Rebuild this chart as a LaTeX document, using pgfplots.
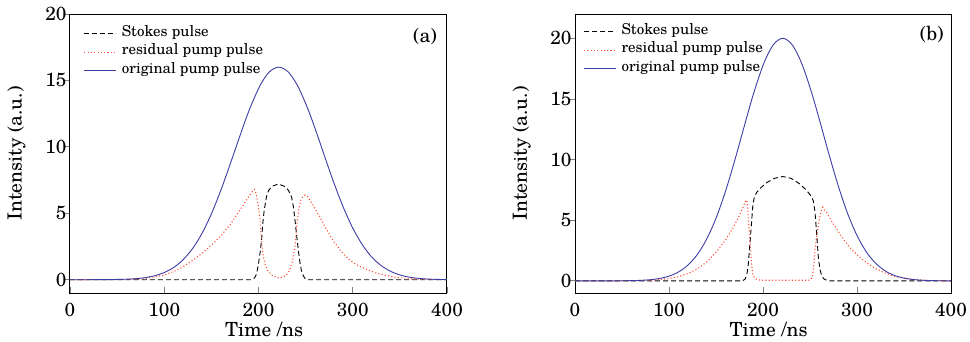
\documentclass[border=0pt]{standalone}
\usepackage{fontspec}
\setmainfont{TeX Gyre Schola}
\usepackage{pgfplots}
\pgfplotsset{compat=1.18}
\definecolor{pblue}{RGB}{60,60,165}
\definecolor{pred}{RGB}{255,80,60}
\pgfplotsset{
 myax/.style={
  anchor=south west, scale only axis, height=279pt,
  xmin=0, xmax=400, ymin=-1,
  xtick={0,100,200,300,400},
  tick align=inside, tick pos=left,
  major tick length=6pt,
  ytick style={xshift=-6pt, line width=0.8pt},
  xtick style={line width=0.8pt},
  axis line style={line width=1pt},
  /pgf/number format/assume math mode=true,
  ticklabel style={font=\fontsize{19}{23}\selectfont},
  xticklabel style={anchor=base, yshift=-23pt},
  label style={font=\fontsize{19.5}{23}\selectfont},
  xlabel={Time /ns}, ylabel={Intensity (a.u.)},
  xlabel style={at={(axis description cs:0.515,-0.1566)}, anchor=base},
  ylabel style={at={(axis description cs:-0.142,0.5)}, anchor=center},
  legend style={draw=none, fill=none, font=\fontsize{15}{18.7}\selectfont,
    anchor=north west, row sep=0pt, column sep=5pt, inner sep=0pt,
    nodes={inner sep=0pt, text height=12pt, text depth=6.6pt}},
  legend cell align=left,
  legend image code/.code={\draw[##1] (0pt,0pt) -- (32pt,0pt);},
 },
 stokes/.style={black, line width=0.9pt, dash pattern=on 5pt off 3pt},
 resid/.style={pred, line width=1.1pt, dash pattern=on 1.1pt off 2.2pt},
 orig/.style={pblue, line width=0.9pt},
}
\begin{document}
\begin{tikzpicture}[x=1pt,y=1pt]
\path[use as bounding box] (0,0) rectangle (970,341);
% ---------------- (a)
\begin{axis}[myax, at={(70pt,48pt)}, width=377pt, ymax=20, ytick={0,5,10,15,20},
  legend style={at={(axis description cs:0.036,0.964)}}]
\addplot[stokes] coordinates {(0,0)(192,0)(194,0.05)(196,0.15)(198,0.45)(200,1.2)(202,2.2)(203.5,3.2)(204.5,4.2)(206,5.2)(208.5,6.25)(211,6.75)(215,7.05)(221,7.2)(227,7.05)(231,6.8)(233.5,6.5)(235.2,6.2)(237,5.5)(238.7,4.5)(240.5,3.3)(242.3,2.2)(244,1.3)(245.5,0.7)(247.5,0.3)(249.5,0.08)(252,0)(400,0)};
\addlegendentry{Stokes pulse}
\addplot[resid] coordinates {(0,0)(40,0.003)(60,0.02)(80,0.1)(100,0.35)(110,0.62)(120,0.98)(130,1.45)(140,1.98)(150,2.6)(160,3.3)(170,4.15)(180,5.2)(188,6.1)(193,6.6)(195.5,6.8)(197.5,6.5)(199.5,5.7)(201.5,4.6)(203.4,2.8)(205,1.8)(207,1.15)(210,0.65)(215,0.3)(222,0.12)(229,0.3)(233,0.7)(236,1.4)(238.5,2.3)(240.5,4.0)(242.5,5.2)(245,6.0)(247.5,6.3)(249.5,6.37)(252,6.25)(258,5.6)(265,4.73)(272,3.8)(279,2.97)(288,2.1)(297,1.46)(306,1.05)(315,0.78)(324,0.52)(332,0.38)(341,0.24)(350,0.15)(365,0.06)(380,0.02)(400,0)};
\addlegendentry{residual pump pulse}
\addplot[orig, smooth] coordinates {(0,0)(20,0.001)(40,0.008)(60,0.04)(70,0.08)(80,0.161)(90,0.302)(100,0.54)(110,0.92)(120,1.50)(130,2.34)(140,3.48)(150,4.95)(160,6.72)(170,8.71)(180,10.77)(190,12.74)(201.5,14.60)(211.5,15.64)(221.5,16)(231.5,15.64)(241.5,14.60)(251.5,13.01)(260,11.39)(270,9.32)(280,7.29)(290,5.45)(300,3.89)(310,2.65)(320,1.72)(330,1.07)(340,0.64)(350,0.36)(360,0.196)(370,0.101)(380,0.05)(390,0.024)(400,0.011)};
\addlegendentry{original pump pulse}
\node[font=\fontsize{19.5}{23}\selectfont] at (axis description cs:0.9416,0.921) {(a)};
\end{axis}
% ---------------- (b)
\begin{axis}[myax, at={(575pt,48pt)}, width=376pt, ymax=22, ytick={0,5,10,15,20},
  legend style={at={(axis description cs:0.022,0.9713)}}]
\addplot[stokes] coordinates {(0,0)(178,0)(181,0.14)(183,0.6)(184.4,1.4)(185.5,2.5)(186.9,3.86)(188,5.0)(189,6.06)(190.5,6.8)(193.3,7.3)(198,7.7)(204,8.1)(212,8.45)(221,8.6)(230,8.45)(239,8.0)(246,7.5)(251,7.0)(253.5,6.6)(255.3,5.7)(256.2,4.8)(257.1,3.86)(258,2.9)(258.9,1.93)(260.5,1.0)(262.4,0.41)(265,0.15)(268,0.05)(271,0)(400,0)};
\addlegendentry{Stokes pulse}
\addplot[resid] coordinates {(0,0)(40,0.002)(60,0.01)(80,0.045)(100,0.19)(110,0.35)(120,0.6)(130,0.98)(140,1.55)(150,2.35)(160,3.35)(168.4,4.4)(175,5.4)(179,6.1)(181.9,6.67)(183.3,6.5)(184.4,5.2)(185.6,3.8)(186.9,2.48)(188,1.3)(189,0.55)(191,0.25)(193.3,0.12)(198,0.05)(250,0.05)(252.5,0.3)(254,1.2)(255.3,2.48)(256.8,3.5)(258.9,4.6)(261,5.5)(263.5,6.06)(268,5.6)(274.8,4.69)(285.4,3.45)(294,2.6)(303.2,1.93)(312,1.4)(320.9,0.97)(330,0.65)(338.6,0.41)(347,0.25)(356.4,0.14)(370,0.05)(385,0.015)(400,0)};
\addlegendentry{residual pump pulse}
\addplot[orig, smooth] coordinates {(0,0)(20,0.0)(40,0.003)(60,0.019)(70,0.045)(80,0.096)(90,0.199)(100,0.39)(110,0.73)(120,1.29)(130,2.16)(140,3.43)(150,5.16)(160,7.36)(170,9.94)(180,12.73)(190,15.45)(201,17.96)(211,19.47)(221,20)(231,19.47)(241,17.96)(251,15.70)(260,13.29)(270,10.49)(280,7.85)(290,5.56)(300,3.74)(310,2.38)(320,1.44)(330,0.82)(340,0.44)(350,0.23)(360,0.11)(370,0.051)(380,0.022)(390,0.009)(400,0.004)};
\addlegendentry{original pump pulse}
\node[font=\fontsize{19.5}{23}\selectfont] at (axis description cs:0.9487,0.925) {(b)};
\end{axis}
\end{tikzpicture}
\end{document}
